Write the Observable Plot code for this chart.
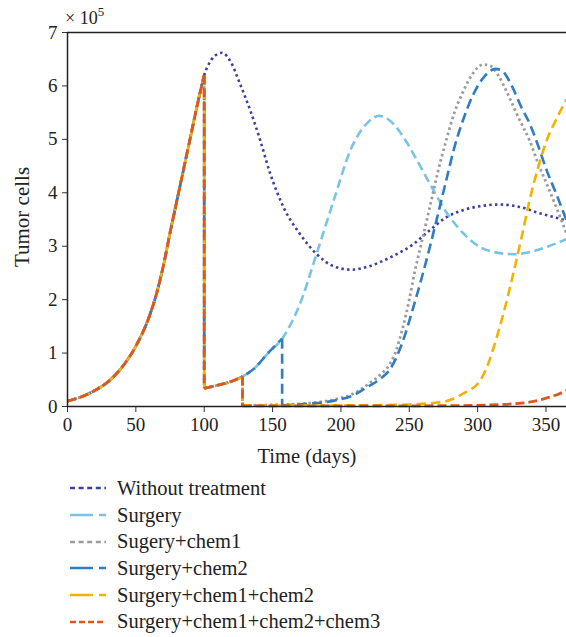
<!DOCTYPE html>
<html>
<head>
<meta charset="utf-8">
<script src="https://cdn.jsdelivr.net/npm/d3@7"></script>
<script src="https://cdn.jsdelivr.net/npm/@observablehq/plot@0.6"></script>
<style>
  html, body { margin: 0; padding: 0; background: #fff; }
  #wrap { width: 566px; font-family: "Liberation Serif", "Times New Roman", serif; color: #222; }
  #legend { margin-left: 70px; }
  .row { display: flex; align-items: center; height: 26.7px; font-size: 20.5px; }
  .row svg { margin-right: 11px; flex: none; }
</style>
</head>
<body>
<div id="wrap">
  <div id="chart"></div>
  <div id="legend"></div>
</div>
<script>
// ---- data (days, tumor cells ×10^5) ----
const xTicks = [0, 50, 100, 150, 200, 250, 300, 350];
const yTicks = [0, 1, 2, 3, 4, 5, 6, 7];

const growthDays  = [0, 10, 20, 30, 40, 50, 60, 65, 70, 75, 80, 85, 90, 95, 100];
const growthCells = [0.1, 0.18, 0.3, 0.47, 0.74, 1.13, 1.7, 2.1, 2.62, 3.25, 3.85, 4.45, 5.05, 5.65, 6.2];

const noTreatDays  = [105, 110, 113, 120, 126, 134, 141, 148, 158, 170, 182, 195, 208, 220, 236, 253, 265, 277, 290, 302, 316, 330, 345, 355, 365];
const noTreatCells = [6.48, 6.6, 6.62, 6.42, 6.05, 5.52, 4.98, 4.38, 3.73, 3.23, 2.86, 2.62, 2.56, 2.62, 2.79, 3.04, 3.3, 3.54, 3.68, 3.75, 3.78, 3.74, 3.62, 3.55, 3.48];

const surgeryDays  = [100, 110, 120, 128, 137, 146, 157, 170, 182, 195, 207, 219, 228, 238, 248, 253, 265, 277, 290, 302, 314, 326, 340, 352, 365];
const surgeryCells = [0.34, 0.4, 0.47, 0.56, 0.72, 0.98, 1.27, 1.92, 2.84, 3.88, 4.8, 5.3, 5.44, 5.3, 4.95, 4.73, 4.17, 3.64, 3.23, 2.98, 2.88, 2.85, 2.9, 3.0, 3.13];

const chem1Days  = [100, 110, 120, 128, 128, 150, 175, 195, 210, 220, 229, 236, 240, 245, 250, 253, 259, 265, 271, 277, 283, 290, 297, 304, 309, 315, 322, 330, 338, 345, 350.5, 358, 365];
const chem1Cells = [0.34, 0.4, 0.47, 0.56, 0.02, 0.03, 0.06, 0.13, 0.25, 0.42, 0.6, 0.8, 1.02, 1.45, 2.0, 2.4, 3.07, 3.73, 4.4, 4.98, 5.5, 5.93, 6.25, 6.4, 6.38, 6.2, 5.85, 5.4, 4.98, 4.5, 4.17, 3.7, 3.24];

const chem2Days  = [100, 110, 120, 128, 137, 146, 157, 157, 175, 195, 210, 219, 229, 236, 245, 253, 259, 265, 271, 277, 283, 290, 297, 305, 313, 318, 325, 332, 338, 344, 350.5, 358, 365];
const chem2Cells = [0.34, 0.4, 0.47, 0.56, 0.72, 0.98, 1.27, 0.02, 0.05, 0.11, 0.22, 0.36, 0.52, 0.7, 1.2, 1.86, 2.4, 2.98, 3.6, 4.23, 4.85, 5.41, 5.85, 6.18, 6.32, 6.28, 6.0, 5.6, 5.3, 4.9, 4.42, 3.95, 3.48];

const chem12Days  = [100, 110, 120, 128, 128, 160, 200, 240, 265, 277, 290, 302, 308, 314, 320, 326, 332, 338, 344, 350.5, 358, 365];
const chem12Cells = [0.34, 0.4, 0.47, 0.56, 0.02, 0.02, 0.02, 0.03, 0.06, 0.1, 0.25, 0.49, 0.82, 1.3, 1.85, 2.48, 3.15, 3.86, 4.45, 4.98, 5.4, 5.75];

const chem123Days  = [100, 110, 120, 128, 128, 200, 280, 310, 326, 340, 350.5, 358, 365];
const chem123Cells = [0.34, 0.4, 0.47, 0.56, 0.01, 0.01, 0.015, 0.03, 0.05, 0.09, 0.16, 0.22, 0.3];

const seriesNames = ["Without treatment", "Surgery", "Sugery+chem1", "Surgery+chem2", "Surgery+chem1+chem2", "Surgery+chem1+chem2+chem3"];

// ---- styles ----
const styles = [
  {days: noTreatDays, cells: noTreatCells, color: "#3f3f9f", dash: "2.5,3.2", lw: 2.6, legendDash: "5,3.6"},
  {days: surgeryDays, cells: surgeryCells, color: "#79c3e7", dash: "9,4.5", lw: 2.6, legendDash: "23,6"},
  {days: chem1Days, cells: chem1Cells, color: "#9c9c9c", dash: "2.5,3", lw: 2.8, legendDash: "5,3.6"},
  {days: chem2Days, cells: chem2Cells, color: "#2f7dc2", dash: "10,5", lw: 2.6, legendDash: "23,6"},
  {days: chem12Days, cells: chem12Cells, color: "#f1b300", dash: "9.5,5", lw: 2.6, legendDash: "23,6"},
  {days: chem123Days, cells: chem123Cells, color: "#e0561b", dash: "9,4", lw: 2.8, legendDash: "6,3"}
];

// split each series into smooth pieces and vertical drops
const lineMarks = [];
styles.forEach((s, i) => {
  const t = growthDays.concat(s.days);
  const v = growthCells.concat(s.cells);
  const smooth = [], drops = [];
  let seg = 0;
  for (let j = 0; j < t.length; j++) {
    if (j > 0 && t[j] === t[j - 1]) {
      drops.push({t: t[j - 1], v: v[j - 1], id: seg}, {t: t[j], v: v[j], id: seg});
      seg++;
    }
    smooth.push({name: seriesNames[i], t: t[j], v: v[j], seg});
  }
  const common = {stroke: s.color, strokeWidth: s.lw, strokeDasharray: s.dash, strokeLinejoin: "round", strokeLinecap: "butt"};
  lineMarks.push(Plot.line(smooth, {x: "t", y: "v", z: "seg", curve: "monotone-x", ...common}));
  if (drops.length) lineMarks.push(Plot.line(drops, {x: "t", y: "v", z: "id", ...common}));
});

const chart = Plot.plot({
  width: 566, height: 475,
  marginLeft: 67, marginRight: 0, marginTop: 32, marginBottom: 69,
  x: {domain: [0, 365]},
  y: {domain: [0, 7]},
  style: {fontFamily: "Liberation Serif, Times New Roman, serif", fontSize: "19px", color: "#222", background: "white", overflow: "visible"},
  marks: [
    Plot.axisX({ticks: xTicks, tickSize: 6, tickPadding: 5, label: null, fontSize: 19, stroke: "#333", tickFormat: d3.format("d")}),
    Plot.axisY({ticks: yTicks, tickSize: 5, tickPadding: 5, label: null, fontSize: 19, stroke: "#333", tickFormat: d3.format("d")}),
    ...lineMarks,
    Plot.ruleY([0], {stroke: "#222", strokeWidth: 1.5}),
    Plot.ruleY([7], {stroke: "#222", strokeWidth: 1.5}),
    Plot.ruleX([0], {stroke: "#222", strokeWidth: 1.5})
  ]
});
document.getElementById("chart").appendChild(chart);

const svg = d3.select(chart);
svg.append("text")
  .attr("x", 307).attr("y", 463)
  .attr("text-anchor", "middle")
  .style("font-size", "20.5px").attr("fill", "#222")
  .text("Time (days)");
svg.append("text")
  .attr("transform", "translate(29,217) rotate(-90)")
  .attr("text-anchor", "middle")
  .style("font-size", "21px").attr("fill", "#222")
  .text("Tumor cells");
const sci = svg.append("text")
  .attr("x", 65).attr("y", 23.5)
  .attr("text-anchor", "start")
  .style("font-size", "18px").attr("fill", "#222");
sci.append("tspan").text("× 10");
sci.append("tspan").attr("dy", -8).style("font-size", "13px").text("5");

// ---- legend ----
const legend = d3.select("#legend");
styles.forEach((s, i) => {
  const row = legend.append("div").attr("class", "row");
  const ls = row.append("svg").attr("width", 36).attr("height", 10);
  ls.append("line").attr("x1", 0).attr("x2", 36).attr("y1", 5).attr("y2", 5)
    .attr("stroke", s.color).attr("stroke-width", 2.6).attr("stroke-dasharray", s.legendDash);
  row.append("span").text(seriesNames[i]);
});
</script>
</body>
</html>
